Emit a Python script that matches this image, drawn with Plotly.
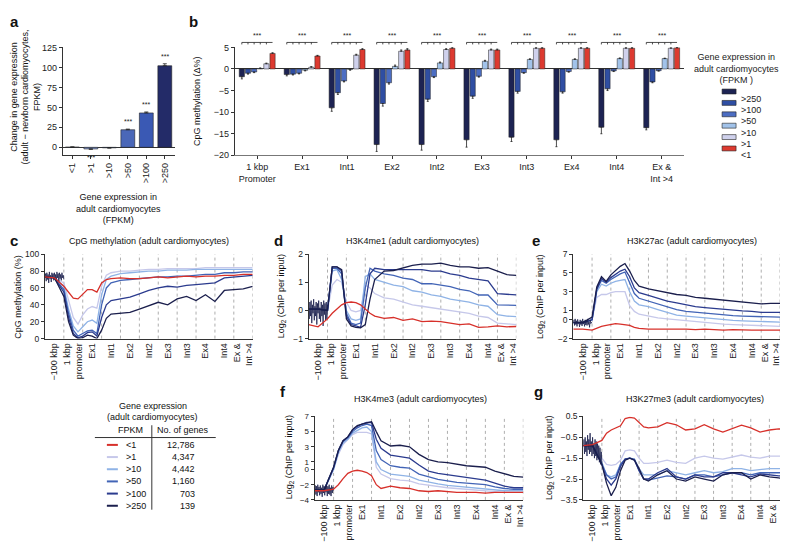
import numpy as np
import plotly.graph_objects as go

W, H = 788, 543
FONT = "Liberation Sans, Arial, sans-serif"
INK = "#333333"


def fx(p):
    return p / W


def fy(p):
    return 1 - p / H


# ---- shared categories ----
FPKM_BINS = ["&lt;1", ">1", ">10", ">50", ">100", ">250"]
GENE_COUNTS = ["12,786", "4,347", "4,442", "1,160", "703", "139"]
LINE_COLORS = ["#d7302a", "#c6c8ea", "#8fb3e6", "#4264b6", "#2b3b8e", "#1b1f4d"]

# ---- panel a ----
A_CHANGE = [0.3, -2.0, -0.6, 22.0, 43.0, 102.0]
A_ERR = [0.2, 0.5, 0.3, 0.8, 1.2, 2.5]
A_STARS = ["", "***", "", "***", "***", "***"]
A_COLORS = ["#a9b8e0", "#8aa0d8", "#6b85cc", "#4a67b8", "#3a59b4", "#232b68"]

# ---- panel b ----
B_GROUPS = ["1 kbp<br>Promoter", "Ex1", "Int1", "Ex2", "Int2", "Ex3", "Int3", "Ex4", "Int4", "Ex &<br>Int >4"]
B_BINS = [">250", ">100", ">50", ">10", ">1", "&lt;1"]
B_COLORS = ["#1d2353", "#2f4ea3", "#4c6dc2", "#a2c3ea", "#cfd1ec", "#dd3a30"]
B_GT250 = [-1.8, -1.3, -9.0, -17.5, -17.5, -16.4, -15.8, -16.4, -13.5, -13.6]
B_GT100 = [-1.0, -1.2, -5.5, -8.0, -7.0, -6.3, -5.2, -5.3, -4.6, -3.0]
B_GT50 = [-0.7, -1.0, -2.8, -3.2, -1.8, -1.7, -0.85, -0.6, -0.45, -0.4]
B_GT10 = [0.1, -0.3, -0.1, 0.6, 1.4, 1.8, 2.2, 2.2, 2.4, 2.4]
B_GT1 = [1.2, 0.4, 3.2, 4.1, 4.5, 4.4, 4.8, 4.8, 4.8, 4.8]
B_LT1 = [3.6, 3.0, 4.5, 4.4, 4.8, 4.4, 4.8, 4.8, 4.8, 4.9]
B_ERR_GT250 = [0.5, 0.3, 0.8, 1.6, 1.3, 1.7, 1.0, 1.6, 1.5, 0.5]
B_ERR_GT100 = [0.2, 0.2, 0.4, 0.6, 0.5, 0.5, 0.4, 0.3, 0.4, 0.2]
B_ERR_SMALL = [0.15, 0.15, 0.2, 0.3, 0.2, 0.2, 0.15, 0.15, 0.15, 0.1]

# ---- line panels c-g ----
SEG_LABELS = ["\u2212100 kbp", "1 kbp<br>promoter", "Ex1", "Int1", "Ex2", "Int2",
              "Ex3", "Int3", "Ex4", "Int4", "Ex &<br>Int >4"]
X_GRID = [0, 0.5, 1.0, 1.25, 1.5, 1.75, 2.0, 2.25, 2.5, 2.75, 3.0, 3.25, 3.5, 4.0,
          4.5, 5.0, 5.5, 6.0, 6.5, 7.0, 7.5, 8.0, 8.5, 9.0, 9.5, 10.0, 10.5, 11.0]

C_LT1 = [73, 72, 62, 55, 48, 47, 53, 58, 58, 55, 66, 70, 71, 72, 71, 71, 72, 73, 72, 73, 74, 73, 74, 74, 75, 75, 76, 76]
C_GT1 = [73, 72, 66, 45, 25, 17, 28, 35, 38, 36, 62, 75, 78, 80, 80, 81, 82, 82, 83, 83, 83, 83, 84, 84, 84, 84, 84, 84]
C_GT10 = [73, 72, 62, 35, 15, 8, 14, 20, 22, 18, 52, 70, 74, 77, 78, 79, 80, 80, 81, 81, 81, 82, 82, 82, 82, 82, 82, 82]
C_GT50 = [73, 72, 58, 30, 10, 3, 6, 9, 10, 6, 40, 60, 66, 69, 70, 71, 72, 73, 73, 74, 74, 75, 76, 76, 78, 78, 79, 79]
C_GT100 = [73, 72, 55, 25, 6, 1, 3, 7, 8, 3, 25, 40, 45, 47, 49, 53, 57, 60, 62, 61, 63, 64, 65, 66, 72, 73, 74, 75]
C_GT250 = [73, 72, 50, 20, 4, 0, 1, 4, 3, 0, 10, 24, 29, 30, 31, 35, 39, 43, 40, 47, 50, 45, 52, 44, 57, 58, 59, 62]

D_LT1 = [-0.5, -0.58, -0.3, -0.1, 0.05, 0.2, 0.28, 0.3, 0.28, 0.2, 0.05, -0.1, -0.2, -0.28, -0.25, -0.35, -0.3, -0.4, -0.38, -0.4, -0.45, -0.5, -0.48, -0.6, -0.58, -0.55, -0.58, -0.57]
D_GT1 = [0.05, 0.05, 0.0, 0.9, 1.1, 1.0, 0.3, 0.0, -0.05, 0.0, 0.9, 0.8, 0.6, 0.45, 0.4, 0.3, 0.2, 0.15, 0.1, 0.05, 0.0, -0.05, -0.1, -0.2, -0.25, -0.45, -0.48, -0.5]
D_GT10 = [0.05, 0.05, 0.0, 1.4, 1.45, 1.1, 0.0, -0.3, -0.35, -0.3, 1.2, 1.3, 1.1, 1.0, 0.9, 0.85, 0.7, 0.65, 0.55, 0.5, 0.4, 0.35, 0.3, 0.2, 0.15, -0.15, -0.2, -0.22]
D_GT50 = [0.05, 0.05, 0.0, 1.5, 1.5, 1.3, -0.1, -0.45, -0.5, -0.45, 0.8, 1.5, 1.4, 1.3, 1.25, 1.15, 1.1, 0.95, 0.95, 0.9, 0.85, 0.75, 0.7, 0.55, 0.55, 0.2, 0.18, 0.18]
D_GT100 = [0.05, 0.05, 0.0, 1.55, 1.55, 1.4, -0.2, -0.5, -0.55, -0.6, 0.2, 1.3, 1.5, 1.45, 1.45, 1.45, 1.45, 1.45, 1.4, 1.4, 1.3, 1.25, 1.15, 1.1, 1.05, 0.6, 0.58, 0.55]
D_GT250 = [0.05, 0.05, 0.0, 1.55, 1.55, 1.45, -0.3, -0.55, -0.6, -0.62, -0.5, 0.4, 1.1, 1.4, 1.42, 1.5, 1.6, 1.65, 1.65, 1.68, 1.6, 1.55, 1.55, 1.5, 1.52, 1.4, 1.27, 1.25]

E_LT1 = [-1.0, -1.0, -1.1, -0.9, -0.7, -0.6, -0.5, -0.4, -0.45, -0.5, -0.6, -0.8, -0.9, -1.0, -1.0, -1.0, -0.95, -1.0, -1.05, -1.0, -1.05, -1.1, -1.05, -1.1, -1.1, -1.1, -1.1, -1.1]
E_GT1 = [-0.3, -0.3, 0.0, 2.4, 2.7, 2.7, 2.9, 3.0, 3.0, 3.0, 1.5, 0.9, 0.6, 0.4, 0.2, 0.1, 0.0, -0.1, -0.2, -0.3, -0.4, -0.45, -0.5, -0.55, -0.6, -0.65, -0.7, -0.7]
E_GT10 = [-0.3, -0.3, 0.0, 3.0, 3.8, 3.6, 3.9, 4.1, 4.2, 4.3, 3.0, 2.0, 1.6, 1.4, 1.1, 0.8, 0.5, 0.4, 0.3, 0.2, 0.1, 0.0, -0.05, -0.1, -0.15, -0.2, -0.25, -0.25]
E_GT50 = [-0.3, -0.3, 0.0, 3.2, 4.2, 3.9, 4.3, 4.6, 4.9, 5.1, 4.0, 2.8, 2.3, 2.0, 1.7, 1.4, 1.1, 0.9, 0.8, 0.7, 0.6, 0.5, 0.45, 0.4, 0.35, 0.3, 0.28, 0.28]
E_GT100 = [-0.3, -0.3, 0.0, 3.3, 4.4, 4.0, 4.5, 4.9, 5.2, 5.4, 4.6, 3.4, 2.9, 2.6, 2.3, 2.0, 1.8, 1.6, 1.4, 1.3, 1.2, 1.1, 1.0, 0.95, 0.9, 0.8, 0.8, 0.8]
E_GT250 = [-0.3, -0.3, 0.3, 3.5, 4.6, 4.1, 4.8, 5.3, 5.7, 6.0, 5.2, 4.2, 3.6, 3.3, 3.1, 2.9, 2.7, 2.6, 2.4, 2.3, 2.2, 2.1, 2.0, 1.95, 1.85, 1.7, 1.75, 1.75]

F_LT1 = [-2.8, -2.8, -2.6, -2.0, -1.2, -0.5, -0.2, -0.1, -0.2, -0.4, -0.8, -2.0, -2.5, -2.2, -2.4, -2.5, -2.8, -2.9, -2.8, -2.9, -3.0, -3.0, -3.0, -3.1, -3.0, -3.0, -3.0, -3.0]
F_GT1 = [-2.7, -2.7, 0.0, 2.0, 3.3, 3.9, 4.6, 4.9, 4.9, 4.9, 4.7, 0.3, -0.6, -1.2, -1.4, -1.5, -1.9, -2.1, -2.3, -2.4, -2.5, -2.6, -2.7, -2.8, -2.9, -3.0, -3.0, -3.0]
F_GT10 = [-2.7, -2.7, 0.0, 2.2, 3.5, 4.0, 4.8, 5.2, 5.5, 5.6, 5.0, 1.0, 0.0, -0.6, -0.8, -0.9, -1.4, -1.7, -1.9, -2.1, -2.2, -2.3, -2.4, -2.5, -2.7, -2.8, -2.8, -2.8]
F_GT50 = [-2.7, -2.7, 0.2, 2.4, 3.7, 4.2, 5.0, 5.5, 5.8, 6.0, 5.8, 2.5, 1.3, 0.5, 0.3, 0.2, -0.6, -1.0, -1.3, -1.5, -1.7, -1.8, -1.9, -2.0, -2.3, -2.5, -2.6, -2.6]
F_GT100 = [-2.7, -2.7, 0.3, 2.5, 3.8, 4.3, 5.2, 5.7, 6.0, 6.2, 6.2, 4.0, 2.8, 1.9, 1.7, 1.5, 0.6, -0.2, -0.5, -0.7, -0.8, -1.0, -1.2, -1.4, -1.8, -2.2, -2.4, -2.4]
F_GT250 = [-2.7, -2.7, 0.3, 2.5, 3.8, 4.3, 5.3, 5.8, 6.0, 6.2, 6.3, 5.0, 3.8, 3.1, 3.2, 3.0, 2.0, 1.3, 1.0, 0.9, 0.7, 0.5, 0.4, 0.3, -0.2, -0.6, -0.9, -1.0]

G_LT1 = [-0.9, -0.85, -0.65, -0.3, -0.15, -0.05, 0.05, 0.4, 0.45, 0.42, 0.2, 0.0, -0.05, 0.0, 0.2, 0.1, -0.15, -0.1, 0.1, -0.1, -0.25, -0.1, 0.08, -0.05, -0.25, -0.15, -0.1, -0.12]
G_GT1 = [-0.9, -0.9, -1.5, -1.8, -1.85, -1.8, -1.6, -1.15, -1.1, -1.15, -1.5, -1.75, -1.75, -1.7, -1.6, -1.7, -1.75, -1.5, -1.4, -1.5, -1.55, -1.45, -1.35, -1.45, -1.5, -1.4, -1.4, -1.4]
G_GT10 = [-0.9, -0.9, -1.7, -2.3, -2.4, -2.3, -1.8, -1.55, -1.5, -1.55, -2.0, -2.3, -2.3, -2.3, -2.1, -2.2, -2.3, -2.2, -2.1, -2.2, -2.15, -2.0, -2.0, -2.1, -2.05, -2.0, -2.0, -2.0]
G_GT50 = [-0.9, -0.9, -1.8, -2.3, -2.5, -2.4, -1.8, -1.55, -1.5, -1.55, -2.1, -2.5, -2.55, -2.45, -2.35, -2.4, -2.5, -2.3, -2.3, -2.4, -2.3, -2.2, -2.2, -2.3, -2.2, -2.2, -2.2, -2.2]
G_GT100 = [-0.9, -0.9, -1.8, -2.5, -2.8, -2.5, -1.9, -1.55, -1.5, -1.6, -2.1, -2.5, -2.5, -2.2, -2.0, -2.4, -2.5, -2.3, -2.4, -2.4, -2.2, -2.2, -2.3, -2.4, -2.25, -2.3, -2.35, -2.35]
G_GT250 = [-0.9, -0.9, -1.8, -2.7, -3.3, -2.9, -2.1, -1.6, -1.5, -1.6, -2.0, -2.5, -2.6, -2.3, -2.1, -2.5, -2.6, -2.4, -2.5, -2.6, -2.3, -2.2, -2.2, -2.5, -2.3, -2.4, -2.45, -2.5]

# noisy -100 kbp background (>250 trace), read as a zig-zag band
C_NOISE = [72, 77, 68, 78, 70, 76, 66, 79, 71, 75, 67, 78, 73, 77, 69, 78, 70, 76, 68, 79, 72, 77, 67, 78, 71, 76, 69, 78, 72, 75, 70]
D_NOISE = [0.1, -0.3, 0.3, -0.2, 0.35, -0.45, 0.2, -0.1, 0.4, -0.35, 0.15, -0.2, 0.3, -0.5, 0.25, -0.1, 0.35, -0.3, 0.1, -0.4, 0.3, -0.2, 0.2, -0.55, 0.35, -0.15, 0.25, -0.35, 0.3, -0.3, 0.2]
E_NOISE = [-0.3, 0.0, -0.6, 0.1, -0.5, -0.1, -0.7, 0.05, -0.4, -0.2, -0.75, 0.0, -0.5, -0.1, -0.65, 0.1, -0.45, -0.15, -0.7, 0.0, -0.55, -0.05, -0.6, 0.1, -0.5, -0.2, -0.8, 0.0, -0.4, -0.3, -0.2]
F_NOISE = [-2.6, -2.1, -3.3, -2.2, -3.5, -2.0, -3.0, -2.3, -3.4, -2.1, -3.2, -2.4, -3.6, -2.0, -3.1, -2.2, -3.4, -2.3, -3.0, -2.1, -3.5, -2.2, -3.2, -2.0, -3.3, -2.4, -3.5, -2.1, -3.1, -2.3, -2.8]
G_NOISE = [-0.9, -0.6, -1.3, -0.5, -1.2, -0.7, -1.4, -0.4, -1.1, -0.6, -1.3, -0.3, -1.2, -0.7, -1.4, -0.5, -1.3, -0.8, -1.5, -0.6, -1.4, -0.7, -1.6, -0.8, -1.5, -0.9, -1.7, -1.0, -1.8, -1.2, -1.8]

fig = go.Figure()


def axis(**kw):
    d = dict(showline=True, linecolor=INK, linewidth=1, showgrid=False, zeroline=False,
             ticks="outside", ticklen=3, tickwidth=1, tickcolor=INK, fixedrange=True,
             tickfont=dict(size=9, color="#222", family=FONT))
    d.update(kw)
    return d


# ---------- panel a ----------
fig.add_trace(go.Bar(
    x=list(range(6)), y=A_CHANGE, width=0.75, marker=dict(color=A_COLORS, line=dict(color="#222", width=0.6)),
    error_y=dict(type="data", symmetric=False,
                 array=[e if v >= 0 else 0 for v, e in zip(A_CHANGE, A_ERR)],
                 arrayminus=[e if v < 0 else 0 for v, e in zip(A_CHANGE, A_ERR)],
                 color="#222", thickness=0.8, width=2),
    xaxis="x", yaxis="y", hoverinfo="skip"))

annotations = []
for i, (v, e, s) in enumerate(zip(A_CHANGE, A_ERR, A_STARS)):
    if s:
        annotations.append(dict(x=i, y=v + e + 2 if v > 0 else v - e - 3, xref="x", yref="y", text=s,
                                showarrow=False, xanchor="center", yanchor="bottom" if v > 0 else "top",
                                font=dict(size=7, family=FONT, color="#222")))

# ---------- panel b ----------
b_series = [B_GT250, B_GT100, B_GT50, B_GT10, B_GT1, B_LT1]
b_errs = [B_ERR_GT250, B_ERR_GT100, B_ERR_SMALL, B_ERR_SMALL, B_ERR_SMALL, B_ERR_SMALL]
for name, vals, errs, col in zip(B_BINS, b_series, b_errs, B_COLORS):
    fig.add_trace(go.Bar(
        x=list(range(10)), y=vals, name=name, offsetgroup=name,
        marker=dict(color=col, line=dict(color="#222", width=0.5)),
        error_y=dict(type="data", symmetric=False,
                     array=[e if v >= 0 else 0 for v, e in zip(vals, errs)],
                     arrayminus=[e if v < 0 else 0 for v, e in zip(vals, errs)],
                     color="#222", thickness=0.8, width=1),
        xaxis="x2", yaxis="y2", hoverinfo="skip"))

shapes = []
GROUP_W = 0.82
slot = GROUP_W / 6
for g in range(10):
    c0 = (g - GROUP_W / 2 + slot / 2 + 0.5) / 10
    c5 = (g + GROUP_W / 2 - slot / 2 + 0.5) / 10
    ybr = 1 + 5 / 110
    shapes.append(dict(type="line", xref="x2 domain", yref="y2 domain", x0=c0, x1=c5, y0=ybr, y1=ybr,
                       line=dict(color="#222", width=0.8)))
    for k in range(5):
        xk = (g - GROUP_W / 2 + slot * (k + 0.5) + 0.5) / 10
        shapes.append(dict(type="line", xref="x2 domain", yref="y2 domain", x0=xk, x1=xk,
                           y0=ybr, y1=ybr - 2 / 110, line=dict(color="#222", width=0.8)))
    annotations.append(dict(x=(g + 0.5) / 10, y=ybr + 1 / 110, xref="x2 domain", yref="y2 domain",
                            text="***", showarrow=False, xanchor="center", yanchor="bottom",
                            font=dict(size=7, family=FONT, color="#222")))

# legend of b
annotations.append(dict(x=fx(729), y=fy(38), xref="paper", yref="paper", xanchor="center", yanchor="top",
                        text="Gene expression in<br>adult cardiomyocytes<br>(FPKM )", showarrow=False,
                        font=dict(size=9, family=FONT, color="#222")))
for i, (name, col) in enumerate(zip(B_BINS, B_COLORS)):
    yc = 80 + i * 11.6
    shapes.append(dict(type="rect", xref="paper", yref="paper", x0=fx(715), x1=fx(729),
                       y0=fy(yc + 2.5), y1=fy(yc - 2.5), fillcolor=col, line=dict(color="#222", width=0.6)))
    annotations.append(dict(x=fx(732), y=fy(yc), xref="paper", yref="paper", xanchor="left",
                            text=name, showarrow=False, font=dict(size=9, family=FONT, color="#222")))

# ---------- line panels ----------
panels = [
    ("x3", "y3", [C_LT1, C_GT1, C_GT10, C_GT50, C_GT100, C_GT250], C_NOISE),
    ("x4", "y4", [D_LT1, D_GT1, D_GT10, D_GT50, D_GT100, D_GT250], D_NOISE),
    ("x5", "y5", [E_LT1, E_GT1, E_GT10, E_GT50, E_GT100, E_GT250], E_NOISE),
    ("x6", "y6", [F_LT1, F_GT1, F_GT10, F_GT50, F_GT100, F_GT250], F_NOISE),
    ("x7", "y7", [G_LT1, G_GT1, G_GT10, G_GT50, G_GT100, G_GT250], G_NOISE),
]
noise_x = np.linspace(0, 1, 31)
for xa, ya, series, noise in panels:
    for k in range(1, 12):
        shapes.append(dict(type="line", xref=xa, yref=ya + " domain", x0=k, x1=k, y0=0, y1=1, layer="below",
                           line=dict(color="#999", width=0.8, dash="dot")))
    for idx in [1, 2, 3, 4, 5]:
        fig.add_trace(go.Scatter(x=X_GRID, y=series[idx], mode="lines", xaxis=xa, yaxis=ya,
                                 line=dict(color=LINE_COLORS[idx], width=1.3), hoverinfo="skip"))
    fig.add_trace(go.Scatter(x=noise_x, y=noise, mode="lines", xaxis=xa, yaxis=ya,
                             line=dict(color=LINE_COLORS[5], width=0.8), hoverinfo="skip"))
    fig.add_trace(go.Scatter(x=X_GRID, y=series[0], mode="lines", xaxis=xa, yaxis=ya,
                             line=dict(color=LINE_COLORS[0], width=1.3), hoverinfo="skip"))


# panel titles / labels
def note(x, y, text, size=9, angle=0, bold=False, xanchor="center", yanchor="middle"):
    annotations.append(dict(x=fx(x), y=fy(y), xref="paper", yref="paper", text=f"<b>{text}</b>" if bold else text,
                            showarrow=False, textangle=angle, xanchor=xanchor, yanchor=yanchor,
                            font=dict(size=size, family=FONT, color="#111")))


for lab, x, y in [("a", 7, 9), ("b", 186, 9), ("c", 6, 232), ("d", 271, 232), ("e", 529, 232),
                  ("f", 275, 386), ("g", 531, 386)]:
    note(x, y, lab, size=15, bold=True)

note(141, 232, "CpG methylation (adult cardiomyocytes)")
note(405, 232, "H3K4me1 (adult cardiomyocytes)")
note(685, 232, "H3K27ac (adult cardiomyocytes)")
note(413, 393, "H3K4me3 (adult cardiomyocytes)")
note(688, 393, "H3K27me3 (adult cardiomyocytes)")

note(17, 85, "Change in gene expression<br>(adult \u2212 newborn cardiomyocytes,<br>FPKM)", size=9, angle=-90)
note(111, 180, "Gene expression in<br>adult cardiomyocytes<br>(FPKM)", yanchor="top")
note(190, 90, "CpG methylation (\u0394%)", angle=-90)
note(10, 289, "CpG methylation (%)", angle=-90)
note(274, 289, "Log<sub>2</sub> (ChIP per input)", angle=-90)
note(533, 289, "Log<sub>2</sub> (ChIP per input)", angle=-90)
note(282, 453, "Log<sub>2</sub> (ChIP per input)", angle=-90)
note(542, 453, "Log<sub>2</sub> (ChIP per input)", angle=-90)

# table under c
note(145, 400, "Gene expression")
note(145, 412, "(adult cardiomyocytes)")
note(123, 425, "FPKM")
note(175, 425, "No. of genes")
shapes.append(dict(type="line", xref="paper", yref="paper", x0=fx(87), x1=fx(208), y0=fy(432.5), y1=fy(432.5),
                   line=dict(color=INK, width=1)))
shapes.append(dict(type="line", xref="paper", yref="paper", x0=fx(144), x1=fx(144), y0=fy(420), y1=fy(506),
                   line=dict(color=INK, width=1)))
for i, (name, cnt, col) in enumerate(zip(FPKM_BINS, GENE_COUNTS, LINE_COLORS)):
    yr = 440 + i * 12.4
    shapes.append(dict(type="line", xref="paper", yref="paper", x0=fx(99), x1=fx(110), y0=fy(yr), y1=fy(yr),
                       line=dict(color=col, width=2)))
    note(116, yr, name, xanchor="left")
    note(189, yr, cnt, xanchor="right")

seg_ticks = [k + 0.5 for k in range(11)]
line_x = dict(range=[0, 11], tickvals=seg_ticks, ticktext=SEG_LABELS, tickangle=-90, ticks="")
small = dict(size=8.5, color="#222", family=FONT)
tiny = dict(size=8, color="#222", family=FONT)

fig.update_layout(
    width=W, height=H, margin=dict(l=0, r=0, t=0, b=0), showlegend=False,
    paper_bgcolor="white", plot_bgcolor="white",
    font=dict(family=FONT, size=9, color="#222"),
    barmode="group", bargap=0.18, bargroupgap=0.15,
    xaxis=axis(domain=[fx(55), fx(167)], range=[-0.51, 5.54], tickvals=list(range(6)), ticktext=FPKM_BINS,
               tickangle=-90, anchor="y"),
    yaxis=axis(domain=[fy(145), fy(35)], range=[-10, 125], tickvals=[0, 25, 50, 75, 100, 125],
               zeroline=True, zerolinecolor=INK, zerolinewidth=1, anchor="x"),
    xaxis2=axis(domain=[fx(227), fx(677)], range=[-0.5, 9.5], tickvals=list(range(10)), ticktext=B_GROUPS,
                tickangle=0, anchor="y2", linecolor="#777"),
    yaxis2=axis(domain=[fy(145), fy(35)], range=[-20, 5], tickvals=[-20, -15, -10, -5, 0, 5],
                zeroline=True, zerolinecolor=INK, zerolinewidth=1, anchor="x2"),
    xaxis3=axis(domain=[fx(37), fx(245)], anchor="y3", **line_x),
    yaxis3=axis(domain=[fy(331.7), fy(245.7)], range=[0, 100], tickvals=[0, 20, 40, 60, 80, 100],
                anchor="x3", tickfont=small),
    xaxis4=axis(domain=[fx(301), fx(509)], anchor="y4", **line_x),
    yaxis4=axis(domain=[fy(331.7), fy(245.7)], range=[-1, 2], tickvals=[-1, 0, 1, 2], anchor="x4", tickfont=small),
    xaxis5=axis(domain=[fx(566), fx(773)], anchor="y5", **line_x),
    yaxis5=axis(domain=[fy(331.7), fy(245.7)], range=[-2, 7], tickvals=[-2, 0, 1, 3, 5, 7], anchor="x5",
                tickfont=small),
    xaxis6=axis(domain=[fx(307), fx(516)], anchor="y6", **line_x),
    yaxis6=axis(domain=[fy(496), fy(411)], range=[-4, 7], tickvals=[-4, -2, 0, 1, 3, 5, 7], anchor="x6",
                tickfont=tiny),
    xaxis7=axis(domain=[fx(576), fx(781)], anchor="y7", **line_x),
    yaxis7=axis(domain=[fy(496), fy(411)], range=[-3.5, 0.5], tickvals=[-3.5, -2.5, -1.5, -0.5, 0.5],
                tickformat=".1f", anchor="x7", tickfont=small),
    shapes=shapes, annotations=annotations,
)

fig.write_html("out.html")
